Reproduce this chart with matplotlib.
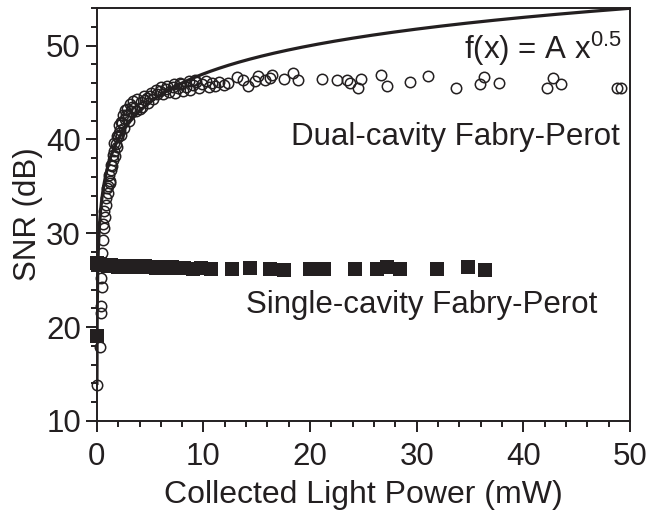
import numpy as np
import matplotlib
matplotlib.use('Agg')
import matplotlib.pyplot as plt
from matplotlib.ticker import MultipleLocator

plt.rcParams['font.family'] = ['Liberation Sans', 'DejaVu Sans']

### DUAL-CAVITY DATA (OPEN CIRCLES)
dual_x = [0.0, 0.3, 0.35, 0.4, 0.45, 0.4, 0.45,
          0.5, 0.55, 0.65, 0.75, 0.9, 1.05, 1.2, 1.35, 1.5, 1.6, 1.8, 2.0, 2.2, 2.4,
          2.6, 2.9, 3.2, 3.5, 0.95, 1.25, 1.45, 1.7, 1.9, 2.1, 2.3, 2.5, 2.7, 3.0, 3.3, 3.7,
          0.6, 0.7, 0.85, 1.0, 1.15, 1.3, 1.5, 1.65, 1.85, 2.05, 2.25, 2.45, 2.65,
          2.85, 3.1, 3.4, 3.8, 4.1, 4.4, 4.7, 5.1, 5.5, 6.0, 6.6, 7.2, 7.8, 8.6, 9.2,
          4.0, 4.2, 4.5, 4.8, 5.0, 5.3, 5.6, 5.9, 6.2, 6.5, 6.8, 7.1, 7.3, 7.6, 7.9,
          8.1, 8.4, 8.7, 9.0, 9.3, 9.6, 9.9, 10.2, 10.5, 10.8, 11.1, 11.5, 11.9, 12.3,
          13.1, 13.7, 14.2, 14.8, 15.1, 15.8, 16.2, 16.4, 17.6, 18.4, 18.9,
          21.1, 22.5, 23.5, 23.7, 24.5, 24.8, 26.7, 27.2, 29.4,
          31.1, 33.7, 35.9, 36.3, 37.7, 42.2, 42.8, 43.5, 48.8, 49.2]
dual_y = [13.8, 17.9, 21.5, 22.2, 24.3, 25.2, 26.8,
          27.9, 29.3, 30.6, 31.7, 33.0, 34.3, 35.6, 36.7, 37.8, 38.8, 39.5, 40.3, 41.0, 41.8,
          42.2, 42.6, 43.0, 43.4, 34.8, 35.4, 37.2, 38.2, 39.2, 40.7, 40.5, 41.2, 42.6, 42.0, 43.5, 43.0,
          31.0, 32.4, 33.8, 35.0, 36.2, 37.3, 38.4, 39.6, 40.4, 41.5, 41.9, 42.6, 43.1,
          43.3, 43.8, 44.1, 44.3, 44.0, 44.6, 44.4, 45.0, 45.3, 45.6, 45.7, 45.9, 46.0, 46.2, 46.3,
          43.2, 43.5, 44.2, 43.9, 44.6, 44.3, 44.9, 45.2, 44.8, 45.4, 45.1, 45.6, 45.0, 45.5, 45.9,
          45.2, 45.6, 45.3, 45.8, 46.1, 45.5, 45.9, 46.2, 45.6, 46.0, 45.7, 46.1, 45.8, 46.0,
          46.7, 46.3, 45.7, 46.2, 46.8, 46.3, 46.6, 46.9, 46.5, 47.1, 46.3,
          46.4, 46.3, 46.3, 46.0, 45.5, 46.5, 46.9, 45.7, 46.1,
          46.8, 45.5, 45.9, 46.7, 46.0, 45.5, 46.6, 45.9, 45.5, 45.5]

### SINGLE-CAVITY DATA (FILLED SQUARES)
single_x = [0.05, 0.0, 0.3, 0.5, 0.7, 1.0, 1.3, 1.6, 2.0, 2.4, 2.8, 3.2, 3.6, 4.0,
            4.5, 5.0, 5.5, 6.0, 6.5, 7.0, 7.5, 8.2, 9.0, 9.8, 10.7,
            12.7, 14.4, 16.2, 17.6, 20.0, 21.3, 24.2, 26.3, 27.2, 28.4, 31.9, 34.8, 36.4]
single_y = [19.0, 26.8, 26.7, 26.6, 26.6, 26.5, 26.6, 26.5, 26.4, 26.5, 26.4, 26.5, 26.4, 26.4,
            26.5, 26.4, 26.3, 26.4, 26.3, 26.4, 26.3, 26.3, 26.2, 26.3, 26.2,
            26.2, 26.3, 26.2, 26.1, 26.2, 26.2, 26.2, 26.2, 26.4, 26.2, 26.2, 26.4, 26.1]

### SQUARE-ROOT FIT IN dB
fit_A = 37.0
fit_x = np.linspace(0.005, 50, 2000)
fit_y = fit_A + 10 * np.log10(fit_x)

fig = plt.figure(figsize=(6.46, 5.12), dpi=100)
ax = fig.add_axes([0.150, 0.178, 0.825, 0.806])

ax.plot(single_x, single_y, 's', color='#231f20', markersize=9.5, markeredgewidth=0,
        zorder=2, clip_on=False)
ax.plot(dual_x, dual_y, 'o', markerfacecolor='none', markeredgecolor='#231f20',
        markersize=7.5, markeredgewidth=1.1, zorder=3, clip_on=False)
ax.plot(fit_x, fit_y, '-', color='#231f20', linewidth=2.3, zorder=4)

ax.set_xlim(0, 50)
ax.set_ylim(10, 54)
ax.xaxis.set_major_locator(MultipleLocator(10))
ax.xaxis.set_minor_locator(MultipleLocator(2))
ax.yaxis.set_major_locator(MultipleLocator(10))
ax.yaxis.set_minor_locator(MultipleLocator(2))
ax.tick_params(which='both', direction='out', top=False, right=False,
               width=1.4, colors='#231f20', labelsize=22.5, labelcolor='#231f20')
ax.tick_params(which='major', length=8)
ax.tick_params(which='minor', length=4.5)
ax.tick_params(axis='x', which='major', pad=7)
for sp in ax.spines.values():
  sp.set_linewidth(1.4)
  sp.set_color('#231f20')

ax.set_xlabel('Collected Light Power (mW)', fontsize=23, color='#231f20', labelpad=6)
ax.set_ylabel('SNR (dB)', fontsize=22.5, color='#231f20', labelpad=2)

ax.text(49.2, 48.6, 'f(x) = A x$\\mathregular{^{0.5}}$', fontsize=22.5, ha='right',
        va='baseline', color='#231f20')
ax.text(49.1, 39.4, 'Dual-cavity Fabry-Perot', fontsize=22.5, ha='right',
        va='baseline', color='#231f20')
ax.text(47.0, 21.5, 'Single-cavity Fabry-Perot', fontsize=22.5, ha='right',
        va='baseline', color='#231f20')

fig.savefig('out.png', dpi=100)
